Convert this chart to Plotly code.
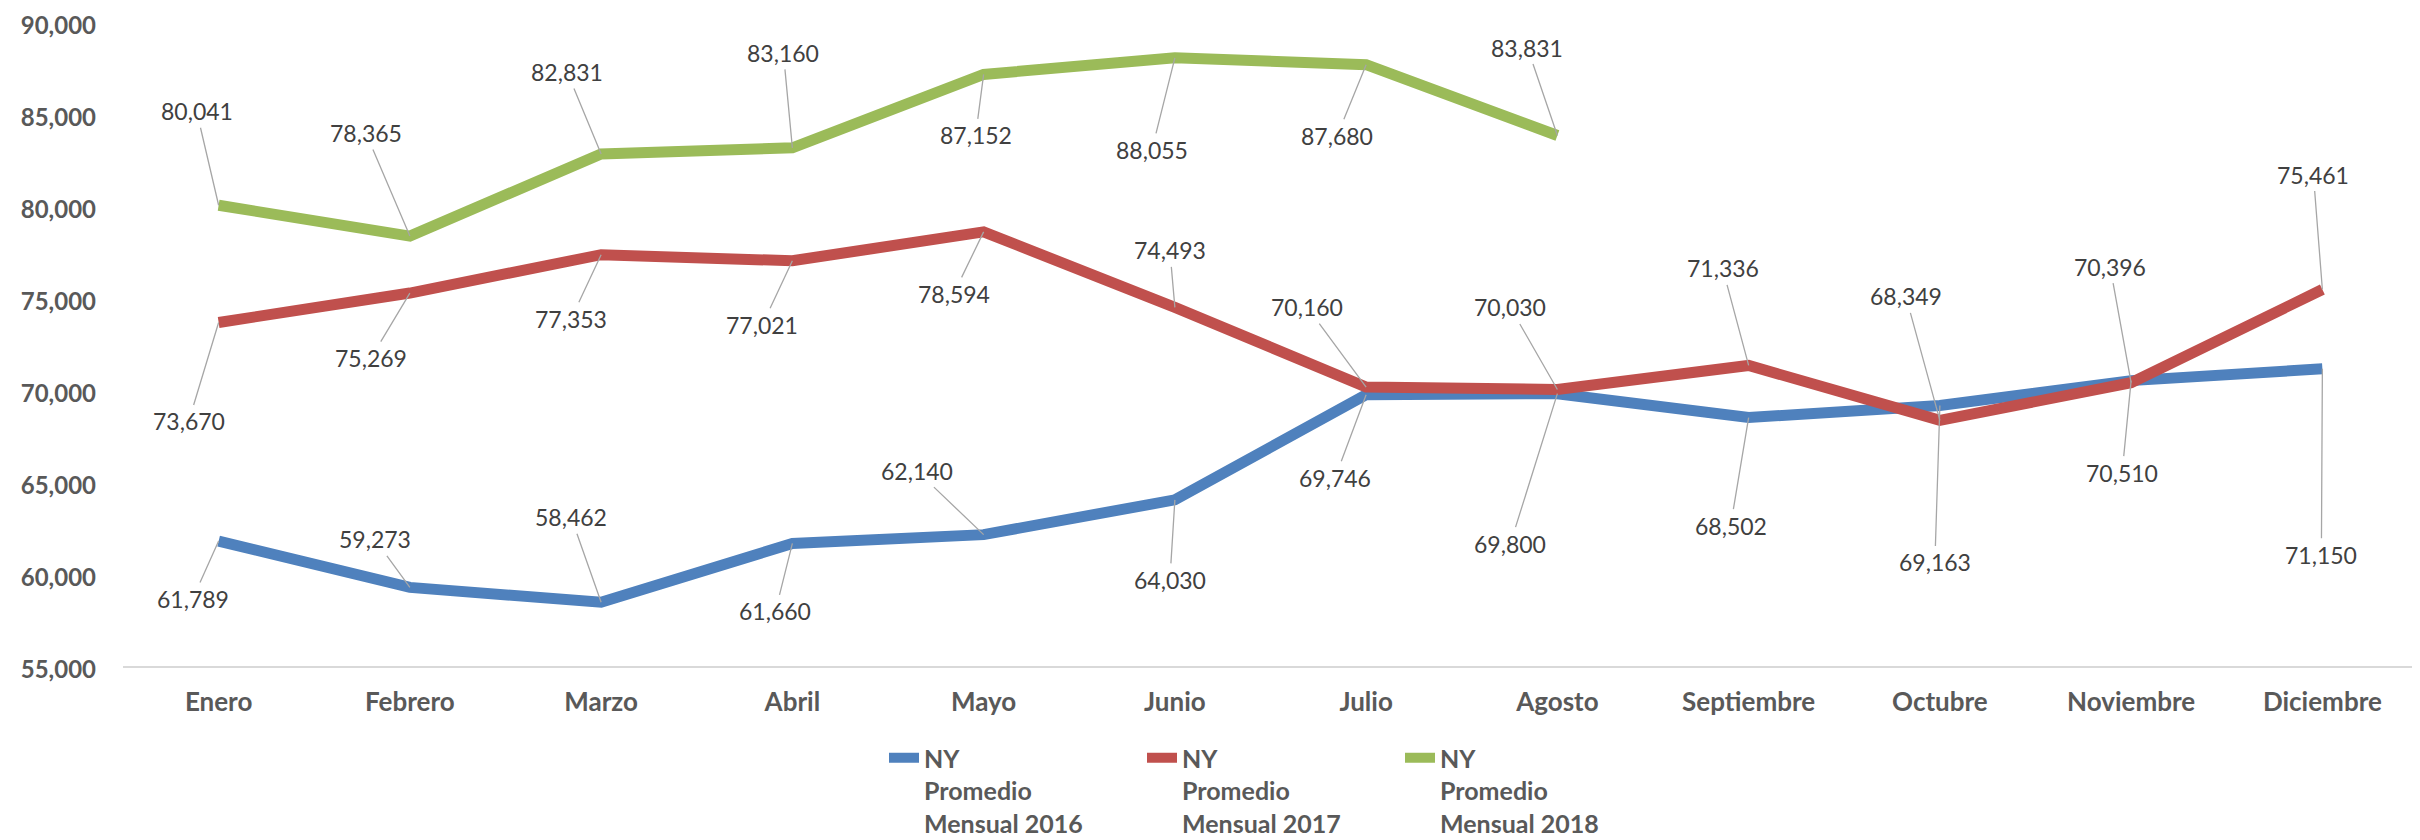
import plotly.graph_objects as go

months = ["Enero", "Febrero", "Marzo", "Abril", "Mayo", "Junio", "Julio",
          "Agosto", "Septiembre", "Octubre", "Noviembre", "Diciembre"]
series_names = ["NY<br>Promedio<br>Mensual 2016",
                "NY<br>Promedio<br>Mensual 2017",
                "NY<br>Promedio<br>Mensual 2018"]
values_2016 = [61789, 59273, 58462, 61660, 62140, 64030, 69746, 69800, 68502, 69163, 70510, 71150]
values_2017 = [73670, 75269, 77353, 77021, 78594, 74493, 70160, 70030, 71336, 68349, 70396, 75461]
values_2018 = [80041, 78365, 82831, 83160, 87152, 88055, 87680, 83831]
y_ticks = [55000, 60000, 65000, 70000, 75000, 80000, 85000, 90000]

# label offsets (pixels, label centre relative to point) - styling only
off_2016 = [(-26, 58), (-35, -48), (-30, -85), (-17, 68), (-67, -64), (-5, 80),
            (-31, 83), (-47, 150), (-18, 108), (-5, 157), (-9, 92), (-1, 186)]
off_2017 = [(-30, 99), (-39, 65), (-30, 64), (-30, 64), (-30, 62), (-5, -57),
            (-59, -80), (-47, -82), (-26, -97), (-34, -124), (-21, -116), (-9, -115)]
off_2018 = [(-22, -94), (-44, -103), (-34, -82), (-9, -95), (-8, 61), (-23, 92),
            (-29, 71), (-30, -88)]

colors = ["#4F81BD", "#C0504D", "#9BBB59"]
FONT = "Lato"
W, H = 2412, 832

fig = go.Figure()
all_vals = [values_2016, values_2017, values_2018]
all_offs = [off_2016, off_2017, off_2018]
annotations = []
for name, vals, offs, col in zip(series_names, all_vals, all_offs, colors):
    xs = months[:len(vals)]
    fig.add_trace(go.Scatter(
        x=xs, y=vals, mode="lines", name=name,
        line=dict(color=col, width=11),
        hoverinfo="x+y",
    ))
    for xv, yv, (dx, dy) in zip(xs, vals, offs):
        annotations.append(dict(
            x=xv, y=yv, xref="x", yref="y",
            text=f"{yv:,}", showarrow=True, arrowhead=0, arrowwidth=1.3,
            arrowcolor="#A6A6A6", ax=dx, ay=dy, standoff=0, borderpad=2,
            font=dict(family=FONT, size=23, color="#404040"),
        ))

fig.update_layout(
    width=W, height=H,
    margin=dict(l=115, r=2, t=14, b=174, autoexpand=False),
    paper_bgcolor="white", plot_bgcolor="white",
    font=dict(family=FONT, color="#595959"),
    annotations=annotations,
    showlegend=True,
    legend=dict(
        orientation="h", xref="container", yref="container",
        x=876 / W, y=1 - 727 / H, xanchor="left", yanchor="top",
        valign="top", entrywidth=213, entrywidthmode="pixels",
        font=dict(family=FONT, size=25, color="#595959", weight="bold"),
        itemwidth=30, bgcolor="rgba(0,0,0,0)",
    ),
)
fig.update_xaxes(
    type="category", categoryorder="array", categoryarray=months,
    range=[-0.5, len(months) - 0.5], automargin=False,
    showgrid=False, showline=True, linecolor="#D9D9D9", linewidth=2,
    ticks="", ticklabelstandoff=12,
    tickfont=dict(family=FONT, size=26, color="#595959", weight="bold"),
    zeroline=False,
)
fig.update_yaxes(
    range=[55000, 90000], tickvals=y_ticks, tickformat=",", automargin=False,
    showgrid=False, showline=False, zeroline=False, ticks="",
    ticklabelstandoff=26, ticklabeloverflow="allow", ticklabelshift=4,
    tickfont=dict(family=FONT, size=24, color="#595959", weight="bold"),
)

fig.write_html("out.html")
